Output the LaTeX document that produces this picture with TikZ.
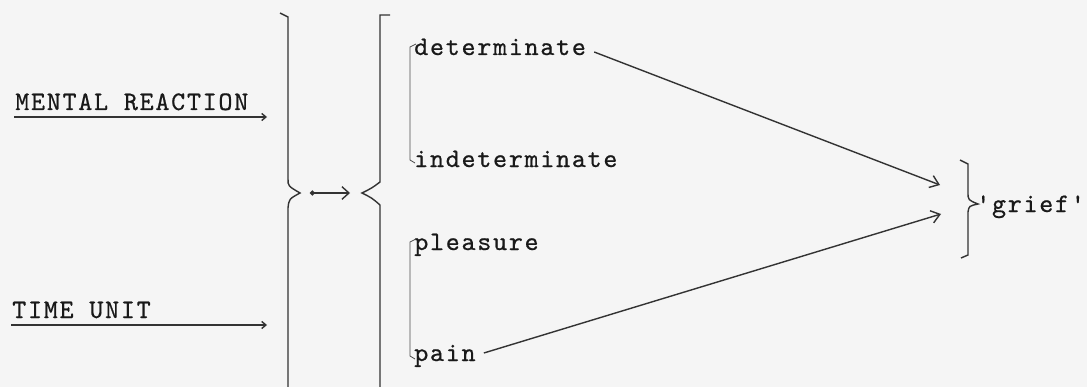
\documentclass[tikz,border=0pt]{standalone}
\usepackage{fontspec}
\usetikzlibrary{arrows.meta}

\newfontfamily\typefam{lmmono10-regular.otf}[LetterSpace=6.5,FakeBold=0.6]
\newcommand{\typewr}{\fontsize{19}{19}\selectfont\typefam}

\tikzset{
  typed/.style={font=\typewr, text=black!90, inner sep=0pt, anchor=base west},
  ink/.style={black!80, line width=1pt},
  fine/.style={black!70, line width=0.6pt},
  tip/.style={-{Straight Barb[length=6pt,width=9pt]}},
}

\begin{document}
\begin{tikzpicture}[x=0.025cm,y=-0.025cm]
  \fill[gray!8] (0,0) rectangle (1087,387);
  \useasboundingbox (0,0) rectangle (1087,387);

  % inputs on the left
  \node[typed] (mental) at (15,110) {MENTAL REACTION};
  \node[typed] (time) at (12,318) {TIME UNIT};
  \coordinate (mentalend) at (267,117);
  \coordinate (timeend) at (267,325);
  \draw[ink,-{Straight Barb[length=3pt,width=5pt]}] ([shift={(-1,7)}]mental.base west) -- (mentalend);
  \draw[ink,-{Straight Barb[length=3pt,width=5pt]}] ([shift={(-1,7)}]time.base west) -- (timeend);

  % joining bracket
  \draw[ink] (280,13) -- (288,17) -- (288,179)
    .. controls (288,186) .. (300,193)
    .. controls (289,199) .. (288,208) -- (288,387);

  \coordinate (join) at (310,193);
  \coordinate (split) at (350,193);
  \draw[ink,{Circle[length=3.5pt]}-{Straight Barb[length=5pt,width=9pt]}] (join) -- (split);

  % splitting bracket
  \draw[ink] (390,15) -- (380,15) -- (380,182)
    .. controls (372,188) .. (362,193)
    .. controls (372,198) .. (380,205) -- (380,387);

  % the four terms
  \node[typed] (determinate) at (414,55) {determinate};
  \node[typed] (indeterminate) at (414,167) {indeterminate};
  \node[typed] (pleasure) at (414,250) {pleasure};
  \node[typed] (pain) at (414,361) {pain};

  \draw[fine] (416,44) -- (410,47) -- (410,160) -- (415,163);
  \draw[fine] (416,239) -- (410,242) -- (410,356) -- (415,359);

  % result
  \coordinate (griefin1) at (940,185);
  \coordinate (griefin2) at (941,214);
  \draw[ink,tip] ([shift={(8,-3)}]determinate.base east) -- (griefin1);
  \draw[ink,tip] ([shift={(8,-8)}]pain.base east) -- (griefin2);

  \draw[ink] (960,160) -- (968,164) -- (968,192)
    .. controls (968,200) .. (978,204)
    .. controls (969,206) .. (968,212) -- (968,255) -- (961,258);
  \node[typed] (grief) at (976,212) {'grief'};
\end{tikzpicture}
\end{document}
